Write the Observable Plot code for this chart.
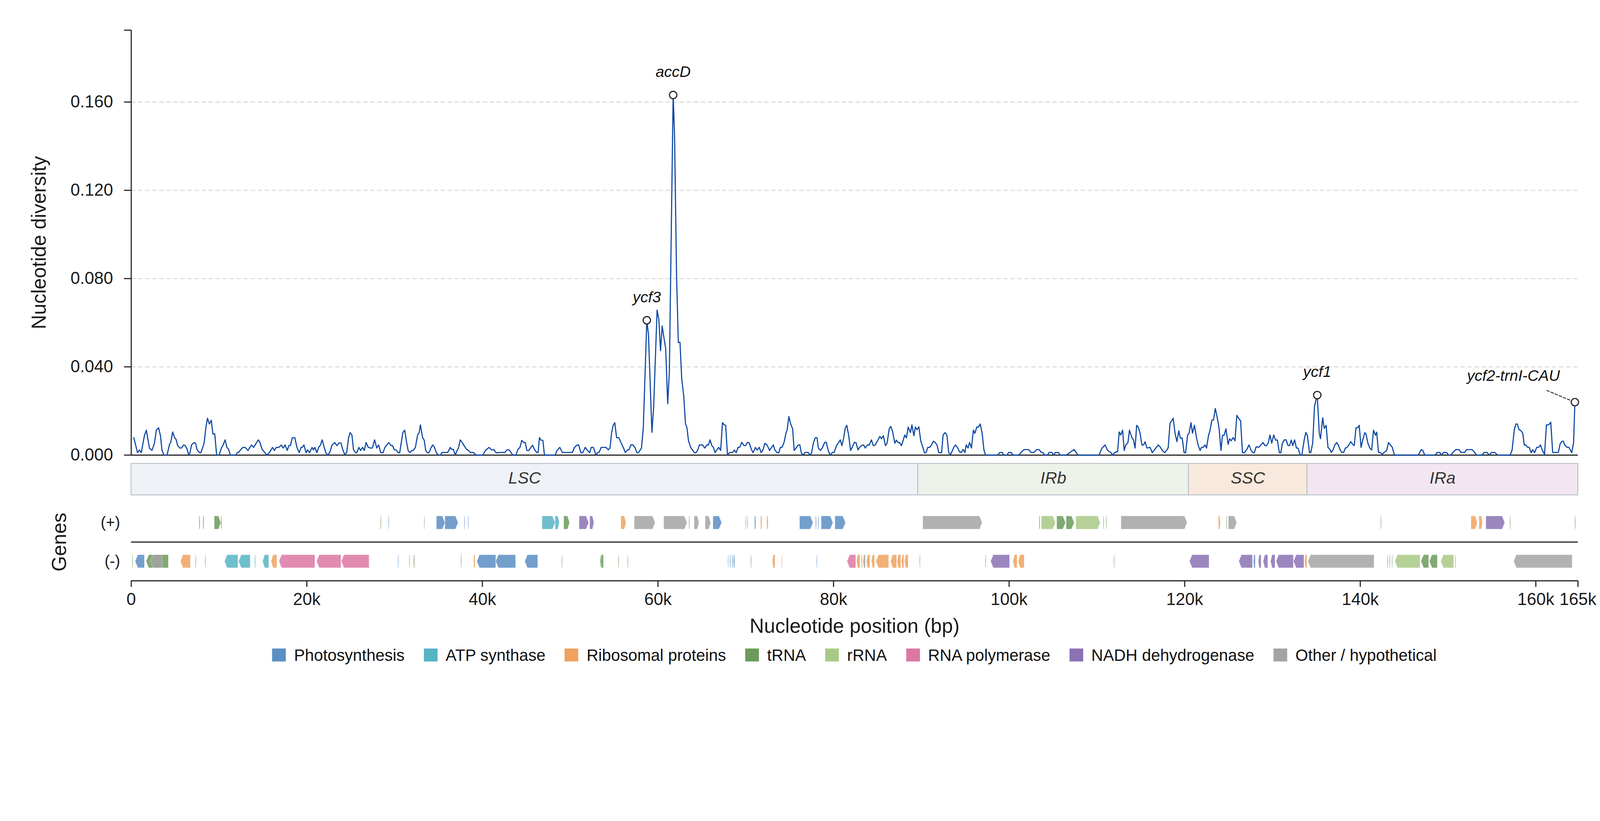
<!DOCTYPE html>
<html><head><meta charset="utf-8">
<script src="https://cdn.jsdelivr.net/npm/d3@7"></script>
<script src="https://cdn.jsdelivr.net/npm/@observablehq/plot@0.6"></script>
<style>
html,body{margin:0;padding:0;background:#fff;overflow:hidden;}
#page{width:4322px;height:2102px;transform-origin:0 0;font-family:"Liberation Sans",Arial,sans-serif;background:#fff;}
#chart svg{display:block;overflow:visible;}
#legend{display:flex;justify-content:center;align-items:center;box-sizing:content-box;padding:23.5px 60px 0 354px;height:35px;font-size:44px;line-height:35px;color:#111;}
.item{display:flex;align-items:center;margin:0 26px;white-space:nowrap;}
.sw{width:37px;height:35px;margin-right:22px;flex:none;}
</style></head>
<body><div id="page"><div id="chart"></div><div id="legend"></div></div>
<script>
// ---------------- data ----------------
const genomeLength = 164800;

// sliding-window nucleotide diversity: [position (kb), Pi]
const diversity = [
[0.29,.0079],[0.72,.0011],[0.93,.0023],[1.14,.0011],[1.50,.0088],[1.72,.0113],[2.07,.0032],[2.36,.0021],[2.65,.0055],[2.86,.0113],[3.11,.0124],[3.33,.0088],[3.50,.0023],[3.72,0],[4.08,0],[4.36,.0049],[4.50,.0057],[4.72,.0105],[4.94,.0079],[5.11,.0071],[5.29,.0043],[5.54,.0032],[5.72,.0032],[5.97,.0046],[6.15,.0043],[6.37,.0026],[6.55,0],[6.69,.0011],[6.87,.0046],[7.15,.0057],[7.33,.0054],[7.51,.0023],[7.80,.0011],[7.94,.0011],[8.30,.0054],[8.51,.0127],[8.69,.0167],[8.90,.0141],[9.12,.0158],[9.30,.0096],[9.51,.0096],[9.73,0],[10.0,0],
[10.30,.0035],[10.44,.0043],[10.69,.0069],[10.90,.0035],[11.09,.0026],[11.30,0],[11.90,0],[12.09,.0012],[12.23,.0012],[12.50,.0026],[12.73,.0035],[12.98,.0035],[13.30,.0021],[13.70,.0046],[13.95,.0035],[14.23,.0054],[14.49,.0069],[14.66,.0057],[14.91,.0026],[15.20,.0012],[15.45,0],[15.74,.0011],[16.09,.0035],[16.31,.0021],[16.52,.0035],[16.81,.0035],[17.10,.0046],[17.31,.0032],[17.53,.0046],[17.78,.0021],[17.95,.0043],[18.13,.0043],[18.35,.0079],[18.63,.0079],[18.88,.0035],[19.13,.0011],[19.35,.0035],[19.49,.0035],[19.67,.0046],[19.92,.0011],
[20.10,.0024],[20.31,.0011],[20.60,.0035],[20.74,.0024],[20.92,.0035],[21.14,.0011],[21.35,.0035],[21.57,.0046],[21.75,.0069],[22.00,.0032],[22.17,.0011],[22.35,0],[22.60,.0011],[22.89,.0046],[23.18,.0057],[23.43,.0043],[23.68,.0055],[23.89,.0055],[24.10,.0024],[24.32,.0003],[24.54,.0011],[24.75,.0077],[24.93,.0102],[25.14,.0091],[25.32,.0024],[25.57,.0011],[25.68,.0011],[25.93,.0035],[26.11,.0021],[26.36,.0035],[26.54,.0021],[26.75,.0057],[27.00,.0035],[27.25,.0032],[27.47,.0032],[27.72,.0069],[27.97,.0032],[28.18,.0046],[28.43,.0011],[28.68,.0011],[28.90,.0035],[29.33,.0057],[29.58,.0043],[29.76,.0043],[29.97,.0024],
[30.15,.0024],[30.40,.0011],[30.58,.0011],[30.94,.0102],[31.15,.0113],[31.37,.0057],[31.54,.0021],[31.76,.0011],[31.94,.0021],[32.12,.0021],[32.37,.0035],[32.62,.0091],[32.80,.0102],[32.94,.0137],[33.19,.0079],[33.37,.0068],[33.55,.0021],[33.73,.0011],[33.91,.0011],[34.16,.0035],[34.33,.0046],[34.51,.0038],[34.76,.0011],[34.98,0],[35.23,0],[35.41,.0012],[36.05,.0012],[36.34,.0035],[36.48,.0026],[36.70,.0026],[36.91,0],[37.12,.0021],[37.27,.0032],[37.48,.0069],[37.70,.0057],[37.91,.0043],[38.20,.0026],[38.41,.0021],[38.63,.0012],[38.98,.0012],[39.27,0],
[40.06,0],[40.34,.0021],[40.77,.0035],[41.02,.0024],[41.31,.0024],[41.56,.0011],[41.77,.0011],[42.02,.0012],[42.56,.0012],[42.81,.0024],[43.03,.0024],[43.28,.0011],[43.46,0],[43.81,0],[44.06,.0026],[44.28,.0035],[44.49,.0067],[44.71,.0057],[44.89,.0057],[45.06,.0021],[45.28,.0021],[45.49,.0032],[45.71,.0045],[45.96,.0024],[46.21,.0011],[46.35,.0012],[46.50,.0079],[46.67,.0068],[46.89,.0067],[47.07,0],[48.28,0],[48.50,.0021],[48.82,.0035],[49.11,.0012],
[50.25,.0012],[50.50,.0035],[50.79,.0046],[50.97,.0046],[51.22,.0011],[51.43,.0011],[51.72,.0035],[51.97,.0021],[52.22,.0011],[52.40,.0035],[52.65,.0035],[52.93,0],[53.15,.0012],[53.29,.0012],[53.54,.0035],[54.08,.0035],[54.33,.0024],[54.54,.0032],[54.72,.0102],[54.90,.0135],[55.08,.0147],[55.29,.0079],[55.54,.0079],[55.79,.0057],[56.08,.0032],[56.28,.0012],[56.56,.0024],[56.70,.0024],[56.91,.0046],[57.16,.0046],[57.41,.0032],[57.59,.0011],[57.77,.0011],[58.12,.0032],[58.33,.0124],[58.73,.0611],[58.92,.0546],[59.31,.0103],[59.51,.0219],[59.90,.0657],
[60.10,.0615],[60.29,.0473],[60.48,.0585],[60.68,.0532],[60.88,.0483],[61.11,.0233],[61.30,.0379],[61.73,.1632],[61.89,.1451],[62.12,.0810],[62.32,.0511],[62.51,.0511],[62.71,.0344],[62.94,.0267],[63.13,.0144],[63.30,.0124],[63.48,.0065],[63.73,.0035],[63.91,.0024],[64.16,.0011],[64.34,.0011],[64.51,.0021],[64.72,.0046],[65.08,.0046],[65.33,.0032],[65.58,.0046],[65.76,.0046],[65.93,.0069],[66.14,.0043],[66.32,.0035],[66.50,.0011],[66.75,.0026],[66.92,.0035],[67.14,.0021],[67.35,.0147],[67.53,.0138],[67.71,.0135],[67.92,0],[68.17,.0012],[68.52,.0012],[68.70,.0023],[68.91,.0011],[69.13,.0035],[69.31,.0035],[69.55,.0058],[69.80,.0043],[69.98,.0043],
[70.19,.0057],[70.37,.0057],[70.65,.0026],[70.83,.0011],[71.11,.0035],[71.29,.0023],[71.54,.0035],[71.75,.0011],[71.97,.0024],[72.18,.0053],[72.43,.0046],[72.71,.0021],[72.89,.0032],[73.14,.0046],[73.31,.0024],[73.56,.0011],[73.77,.0011],[73.95,.0035],[74.13,.0035],[74.38,.006],[74.56,.0096],[74.73,.0117],[74.91,.0175],[75.12,.0141],[75.34,.0119],[75.52,.0021],[75.73,.0032],[75.98,.0046],[76.16,.0046],[76.33,.0011],[76.51,0],[76.76,.0012],[77.12,.0012],[77.33,0],[77.50,.0011],[77.72,.0057],[77.93,.0079],[78.11,.0079],[78.28,.0032],[78.50,.0021],[78.71,.0032],[79.00,.0058],[79.17,.0058],[79.42,.0018],[79.63,0],[79.88,.0012],
[80.06,.0012],[80.34,.0043],[80.59,.0057],[80.77,.0069],[80.95,.0043],[81.12,.0071],[81.34,.0124],[81.51,.0135],[81.73,.0088],[81.94,.0021],[82.12,.0035],[82.37,.0057],[82.55,.0057],[82.79,.0024],[82.97,.0035],[83.18,.0043],[83.43,.0046],[83.61,.0032],[83.86,.0046],[84.08,.0046],[84.32,.0069],[84.53,.0043],[84.74,.0046],[85.03,.0066],[85.28,.0085],[85.45,.0074],[85.67,.0088],[85.92,.0043],[86.10,.0054],[86.34,.0119],[86.52,.013],[86.73,.0107],[86.98,.0054],[87.16,.0068],[87.34,.0057],[87.52,.0057],[87.73,.0043],[87.94,.0068],[88.12,.0091],[88.30,.0078],[88.51,.0127],[88.76,.0102],[88.93,.0137],[89.15,.0088],[89.32,.0127],[89.50,.0115],[89.72,.0128],[89.93,.0065],
[90.11,.0043],[90.36,.0011],[90.54,.0011],[90.74,.0035],[90.96,.0035],[91.17,.0047],[91.38,.0063],[91.60,.0057],[91.81,.0043],[91.99,.0011],[92.31,.0011],[92.48,.0091],[92.70,.0102],[92.91,.0091],[93.12,.0011],[93.33,.0003],[93.55,.0021],[93.73,.0038],[93.90,.0046],[94.15,.0032],[94.36,.0015],[94.54,.0011],[94.76,.0026],[94.97,.0011],[95.11,.0046],[95.32,.0032],[95.50,.0057],[95.71,.0032],[95.93,.0113],[96.10,.0099],[96.32,.0127],[96.50,.0127],[96.71,.0141],[96.92,.0102],[97.13,.0024],[97.31,0],[98.70,0],[98.94,.0012],[99.22,.0012],[99.40,0],[99.76,0],[99.94,.0012],
[100.22,.0012],[100.44,0],[101.08,0],[101.36,.0012],[101.71,.0025],[102.24,.0025],[102.49,.0012],[102.84,.0012],[103.13,.0025],[103.42,.0025],[103.67,.0012],[103.85,.0012],[104.06,0],[104.38,0],[104.55,.0012],[104.90,.0012],[105.08,0],[105.26,.0012],[105.62,.0012],[105.80,0],[106.51,0],[106.93,.0012],[107.39,.0025],[107.64,.0012],[107.85,0],[110.23,0],[110.59,.0032],[110.94,.0046],[111.23,.0021],[111.58,.0012],[111.79,0],[112.01,.0011],[112.22,.0015],[112.36,.0015],[112.54,.0105],[112.72,.0091],[112.93,.0113],[113.11,.0021],[113.29,.0046],[113.54,.0057],[113.71,.0113],[113.96,.0082],[114.17,.0068],[114.35,.0032],[114.53,.0135],[114.71,.0127],[114.92,.0099],[115.13,.0046],[115.31,.0046],[115.49,.006],[115.70,.0032],[116.06,.0035],[116.31,.0011],[116.56,.0024],[116.98,.0046],[117.19,.0038],[117.45,.0021],[117.73,.0011],[117.98,.0024],[118.12,.0033],[118.33,.0144],[118.51,.0155],[118.69,.0167],[118.90,.0099],[119.12,.0061],[119.33,.011],[119.51,.0077],[119.72,.0077],[119.93,.0011],
[120.11,.0011],[120.33,.009],[120.50,.0099],[120.72,.0147],[120.89,.0099],[121.11,.0135],[121.36,.0076],[121.53,.0046],[121.75,.0021],[121.92,.0035],[122.10,.0035],[122.32,.0046],[122.49,.0032],[122.71,.0088],[122.88,.0111],[123.10,.0159],[123.28,.0159],[123.49,.0211],[123.70,.0172],[123.92,.0121],[124.13,.0021],[124.31,.009],[124.49,.009],[124.70,.0119],[124.95,.0049],[125.12,.0074],[125.30,.0065],[125.52,.0079],[125.73,.0065],[125.94,.018],[126.16,.0166],[126.37,.0155],[126.58,.0011],[126.80,.0011],[127.05,.0024],[127.33,.0046],[127.54,.0024],[127.75,.0011],[127.93,.0011],[128.15,.0038],[128.43,.0035],[128.68,.0046],[128.93,.0057],[129.14,.0043],[129.32,.0043],[129.53,.0057],[129.71,.0091],[129.92,.0054],
[130.14,.0091],[130.35,.0068],[130.56,.0068],[130.78,.0011],[130.95,.0011],[131.13,.0054],[131.35,.0069],[131.56,.0069],[131.77,.0043],[131.95,.0043],[132.13,.0068],[132.31,.0043],[132.52,.0069],[132.73,.0032],[132.91,.0032],[133.16,0],[133.34,0],[133.62,.007],[133.80,.0103],[133.98,.0088],[134.22,.0011],[134.36,.0011],[134.58,.0054],[134.79,.0222],[135.10,.0272],[135.33,.0099],[135.47,.0074],[135.72,.0169],[135.90,.0121],[136.11,.0135],[136.32,.0035],[136.54,.0026],[136.71,.0012],[136.93,.0026],[137.10,.0046],[137.32,.0057],[137.53,.0043],[137.71,.0023],[137.92,.0012],[138.10,.0012],[138.31,.0032],[138.49,.0035],[138.70,.0046],[138.92,.0061],[139.13,.0049],[139.31,.0043],[139.52,.0124],[139.70,.0124],[139.88,.0135],
[140.09,.0035],[140.30,.0071],[140.52,.0102],[140.66,.0094],[140.87,.0054],[141.09,.0032],[141.30,.0023],[141.51,.0113],[141.73,.009],[141.87,.0104],[142.08,.0012],[142.26,.0012],[142.51,.0004],[142.72,.0012],[143.01,.0021],[143.22,.0057],[143.43,.0046],[143.65,.0035],[143.89,0],[146.60,0],[146.95,.0025],[147.13,.0021],[147.34,0],[148.55,0],[148.76,.0012],[149.05,.0012],[149.26,0],[149.48,.0012],[149.83,.0012],
[150.05,0],[150.33,0],[150.54,.0012],[150.90,.0025],[151.25,.0025],[151.47,.0012],[151.89,.0012],[152.11,.0025],[152.75,.0025],[153.03,.0012],[153.24,0],[153.88,0],[154.10,.0012],[154.45,.0012],[154.67,0],[154.95,.0012],[155.31,.0012],[155.66,0],[157.08,0],[157.30,.0024],[157.54,.0113],[157.72,.0141],[157.90,.0141],[158.08,.0116],[158.29,.0111],[158.51,.0099],[158.68,.0046],[158.86,.0046],[159.07,.0035],[159.25,.0035],[159.47,.0011],[159.64,.0024],[159.86,.0011],
[160.10,.0035],[160.32,.0035],[160.53,.0046],[160.71,.0024],[160.99,.0004],[161.21,.0137],[161.46,.0137],[161.70,.0149],[161.92,.0012],[162.56,.0012],[162.77,.0051],[162.98,.0063],[163.13,.0063],[163.30,.0046],[163.55,.0035],[163.77,.0035],[164.09,.0011],[164.30,.0057],[164.45,.024]
];

// annotated hotspots
const peakNames = ["ycf3", "accD", "ycf1", "ycf2-trnI-CAU"];
const peakPos = [58730, 61730, 135100, 164450];
const peakPi = [0.0611, 0.1632, 0.0272, 0.024];
const peakLeader = [false, false, false, true];

// regions (bp)
const regionNames = ["LSC", "IRb", "SSC", "IRa"];
const regionStart = [0, 89620, 120450, 133950];
const regionEnd = [89620, 120450, 133950, 164800];
const regionFills = ["#eef2f6", "#edf2ea", "#f8e9dc", "#f2e7f1"];

// gene categories
const catKeys = ["ph", "atp", "rib", "trn", "rrn", "rpo", "ndh", "oth"];
const catLabels = ["Photosynthesis", "ATP synthase", "Ribosomal proteins", "tRNA", "rRNA", "RNA polymerase", "NADH dehydrogenase", "Other / hypothetical"];
const catColors = ["#5b8ec4", "#56b4c4", "#f0a25e", "#6b9a5b", "#a8c986", "#dc77a3", "#8a72b3", "#a3a3a3"];

// strand tracks
const strandKeys = ["+", "-"];
const strandLabels = ["(+)", "(-)"];

// genes: [start kb, end kb, strand, category]
const genes = [
[7.75,7.85,"+","ph"],[8.20,8.30,"+","ph"],[9.48,10.22,"+","trn"],[10.25,10.34,"+","trn"],[28.42,28.5,"+","trn"],[29.32,29.4,"+","ph"],[33.38,33.45,"+","trn"],[34.79,35.76,"+","ph"],[35.76,37.25,"+","ph"],[37.95,38.03,"+","ph"],[38.38,38.45,"+","ph"],
[46.83,48.31,"+","atp"],[48.31,48.78,"+","atp"],[49.29,49.95,"+","trn"],[51.04,52.13,"+","ndh"],[52.25,52.72,"+","ndh"],[55.8,56.39,"+","rib"],[57.32,59.7,"+","oth"],[60.68,63.33,"+","oth"],[63.55,63.63,"+","ph"],[64.15,64.69,"+","oth"],[65.4,66.02,"+","oth"],[66.29,67.27,"+","ph"],[70.0,70.07,"+","ph"],[70.2,70.27,"+","ph"],[71.03,71.17,"+","ph"],[71.72,71.88,"+","rib"],[72.42,72.58,"+","rib"],[76.16,77.68,"+","ph"],[77.98,78.07,"+","ph"],[78.25,78.34,"+","ph"],[78.62,79.95,"+","ph"],[80.18,81.38,"+","ph"],
[90.19,96.95,"+","oth"],[103.45,103.55,"+","trn"],[103.7,105.3,"+","rrn"],[105.45,106.44,"+","trn"],[106.52,107.43,"+","trn"],[107.63,110.4,"+","rrn"],[110.75,110.83,"+","trn"],[111.07,111.15,"+","trn"],[112.77,120.29,"+","oth"],[123.87,124.08,"+","rib"],[124.76,124.84,"+","trn"],[125.0,125.95,"+","oth"],[142.34,142.42,"+","trn"],[152.64,153.35,"+","rib"],[153.55,153.94,"+","rib"],[154.34,156.48,"+","ndh"],[157.07,157.15,"+","trn"],[164.47,164.55,"+","trn"],
[0.12,0.2,"-","trn"],[0.47,1.52,"-","ph"],[1.72,4.25,"-","trn"],[2.2,3.55,"-","oth"],[5.62,6.75,"-","rib"],[7.33,7.41,"-","trn"],[8.42,8.5,"-","trn"],[10.65,12.17,"-","atp"],[12.25,13.57,"-","atp"],[14.07,14.17,"-","atp"],[14.98,15.68,"-","atp"],[15.95,16.61,"-","rib"],[16.85,20.94,"-","rpo"],[21.14,23.91,"-","rpo"],[23.95,27.11,"-","rpo"],[30.38,30.46,"-","ph"],[31.67,31.75,"-","trn"],[32.14,32.22,"-","trn"],[32.26,32.33,"-","trn"],[37.56,37.64,"-","trn"],[39.0,39.17,"-","rib"],[39.39,41.54,"-","ph"],[41.54,43.8,"-","ph"],[44.85,46.32,"-","ph"],
[49.05,49.13,"-","trn"],[53.42,53.5,"-","trn"],[53.46,53.81,"-","trn"],[55.49,55.57,"-","trn"],[56.54,56.62,"-","trn"],[67.97,68.05,"-","ph"],[68.2,68.3,"-","ph"],[68.45,68.55,"-","ph"],[68.62,68.75,"-","ph"],[70.58,70.66,"-","trn"],[73.04,73.35,"-","rib"],[74.09,74.17,"-","rib"],[78.07,78.15,"-","ph"],[81.56,82.55,"-","rpo"],[82.64,83.03,"-","rib"],[83.18,83.3,"-","rib"],[83.39,83.64,"-","oth"],[83.77,84.16,"-","rib"],[84.34,84.68,"-","rib"],[84.84,86.3,"-","rib"],[86.52,87.2,"-","rib"],[87.25,87.68,"-","rib"],[87.75,88.03,"-","rib"],[88.1,88.52,"-","rib"],[89.81,89.89,"-","trn"],
[97.3,97.38,"-","trn"],[97.92,100.07,"-","ndh"],[100.46,100.93,"-","rib"],[101.04,101.74,"-","rib"],[111.94,112.02,"-","trn"],[120.57,122.79,"-","ndh"],[126.19,127.74,"-","ndh"],[127.85,128.06,"-","ph"],[128.4,128.72,"-","ndh"],[128.96,129.48,"-","ndh"],[129.8,130.31,"-","ndh"],[130.43,132.4,"-","ndh"],[132.42,133.6,"-","ndh"],[133.68,133.95,"-","rib"],[134.06,141.59,"-","oth"],[143.1,143.18,"-","trn"],[143.33,143.41,"-","trn"],[143.61,143.69,"-","trn"],[143.97,146.82,"-","rrn"],[146.94,147.81,"-","trn"],[147.89,148.8,"-","trn"],[149.19,150.66,"-","rrn"],[150.82,150.9,"-","trn"],[157.5,164.16,"-","oth"]
];

// axis ticks
const yTicks = [0, 0.04, 0.08, 0.12, 0.16];
const xTicks = [0, 20000, 40000, 60000, 80000, 100000, 120000, 140000, 160000, genomeLength];

// ---------------- layout / style ----------------
const W = 4322, H = 2102, ML = 354, MR = 60;
const page = document.getElementById("page");
const fit = Math.min(window.innerWidth / W, window.innerHeight / H);
if (fit && Math.abs(fit - 1) > 0.001) page.style.transform = `scale(${fit})`;

const FONT = '"Liberation Sans", Arial, Helvetica, sans-serif';
const INK = "#1a1a1a";
const baseStyle = {fontFamily: FONT, background: "transparent", overflow: "visible", color: INK};

const divData = diversity.map(([k, v]) => ({pos: k * 1000, pi: v}));
const yMax = d3.max(divData, d => d.pi) * 1.18;
const peaks = peakNames.map((name, i) => ({name, pos: peakPos[i], pi: peakPi[i], leader: peakLeader[i]}));
const regions = regionNames.map((name, i) => ({name, start: regionStart[i], end: regionEnd[i]}));

const chart1 = Plot.plot({
  width: W, height: 1245, marginLeft: ML, marginRight: MR, marginTop: 81, marginBottom: 16,
  style: baseStyle,
  x: {domain: [0, genomeLength], axis: null},
  y: {domain: [0, yMax], axis: null},
  marks: [
    Plot.gridY(yTicks.filter(t => t > 0), {stroke: "#d2d9e0", strokeOpacity: 1, strokeWidth: 2.5, strokeDasharray: "12,7"}),
    Plot.axisY(yTicks, {tickSize: 19, tickPadding: 30, tickFormat: d3.format(".3f"), strokeWidth: 3, stroke: "#222", fontSize: 46, fill: INK, label: null}),
    Plot.axisY([yMax], {tickSize: 19, tickFormat: () => "", strokeWidth: 3, stroke: "#222", label: null}),
    Plot.ruleX([0], {stroke: "#222", strokeWidth: 3}),
    Plot.ruleY([0], {stroke: "#222", strokeWidth: 3}),
    Plot.line(divData, {x: "pos", y: "pi", stroke: "#0d47a1", strokeWidth: 3, strokeLinejoin: "round"}),
    Plot.vector(peaks.filter(d => d.leader), {
      x: "pos", y: "pi", length: 86, rotate: -67.4, anchor: "start",
      shape: {draw(context, l) { context.moveTo(0, -15); context.lineTo(0, -l); }},
      stroke: "#333", strokeWidth: 2.5, strokeDasharray: "7,5"
    }),
    Plot.dot(peaks, {x: "pos", y: "pi", r: 10, fill: "white", stroke: "#222", strokeWidth: 3}),
    Plot.text(peaks.filter(d => !d.leader), {x: "pos", y: "pi", text: "name", dy: -49, lineAnchor: "bottom", fontStyle: "italic", fontSize: 41.5, fill: "#111"}),
    Plot.text(peaks.filter(d => d.leader), {x: "pos", y: "pi", text: "name", dx: -166, dy: -58, lineAnchor: "bottom", fontStyle: "italic", fontSize: 41.5, fill: "#111"}),
    Plot.text(["Nucleotide diversity"], {frameAnchor: "left", dx: -269, rotate: -90, textAnchor: "middle", lineAnchor: "top", fontSize: 54, fill: INK})
  ]
});

const chart2 = Plot.plot({
  width: W, height: 105, marginLeft: ML, marginRight: MR, marginTop: 7, marginBottom: 13,
  style: baseStyle,
  x: {domain: [0, genomeLength], axis: null},
  color: {domain: regionNames, range: regionFills},
  marks: [
    Plot.rect(regions, {x1: "start", x2: "end", fill: "name", stroke: "#b8c2cc", strokeWidth: 2.5}),
    Plot.text(regions, {x: d => (d.start + d.end) / 2, frameAnchor: "middle", dy: -3, text: "name", fontStyle: "italic", fontSize: 45, fill: "#333"})
  ]
});

// gene arrows as areas between two lines (pointed end follows the strand)
const HEAD = 300, HALF = 0.17;
const strandY = {"+": 1, "-": 0};
const geneVerts = genes.flatMap(([s, e, strand, cat], i) => {
  const a = s * 1000, b = e * 1000, c = strandY[strand];
  const head = Math.min(HEAD, (b - a) * 0.35);
  const pts = strand === "+" ? [[a, HALF], [b - head, HALF], [b, 0]] : [[a, 0], [a + head, HALF], [b, HALF]];
  return pts.map(([x, h]) => ({id: i, x, y1: c - h, y2: c + h, cat}));
});
const trackValues = strandKeys.map(k => strandY[k]);
const trackDomain = [d3.min(trackValues) - 0.5, d3.max(trackValues) + 0.5];

const chart3 = Plot.plot({
  width: W, height: 378.5, marginLeft: ML, marginRight: MR, marginTop: 9.5, marginBottom: 160,
  style: baseStyle,
  x: {domain: [0, genomeLength], axis: null},
  y: {domain: trackDomain, axis: null},
  color: {domain: catKeys, range: catColors},
  marks: [
    Plot.ruleY([d3.mean(trackValues)], {stroke: "#333", strokeWidth: 3.5}),
    Plot.areaY(geneVerts, {x: "x", y1: "y1", y2: "y2", z: "id", fill: "cat", fillOpacity: 0.85, stroke: "white", strokeWidth: 1, strokeOpacity: 0.5}),
    Plot.axisY(trackValues, {tickSize: 0, tickPadding: 30, tickFormat: v => strandLabels[trackValues.indexOf(v)], fontSize: 42, fill: INK, label: null}),
    Plot.text(["Genes"], {frameAnchor: "left", dx: -215, rotate: -90, textAnchor: "middle", lineAnchor: "top", fontSize: 54, fill: INK}),
    Plot.ruleY([trackDomain[0]], {stroke: "#222", strokeWidth: 3}),
    Plot.axisX(xTicks, {tickSize: 17, tickPadding: 16, strokeWidth: 3, stroke: "#222", fontSize: 46, fill: INK, label: null,
      tickFormat: d => d === 0 ? "0" : Math.round(d / 1000) + "k"}),
    Plot.text(["Nucleotide position (bp)"], {frameAnchor: "bottom", dy: 140.5, lineAnchor: "bottom", fontSize: 54, fill: INK})
  ]
});

document.getElementById("chart").append(chart1, chart2, chart3);

const legend = document.getElementById("legend");
catLabels.forEach((label, i) => {
  const item = document.createElement("div");
  item.className = "item";
  const sw = document.createElement("div");
  sw.className = "sw";
  sw.style.background = catColors[i];
  const tx = document.createElement("span");
  tx.textContent = label;
  item.append(sw, tx);
  legend.append(item);
});
</script></body></html>
